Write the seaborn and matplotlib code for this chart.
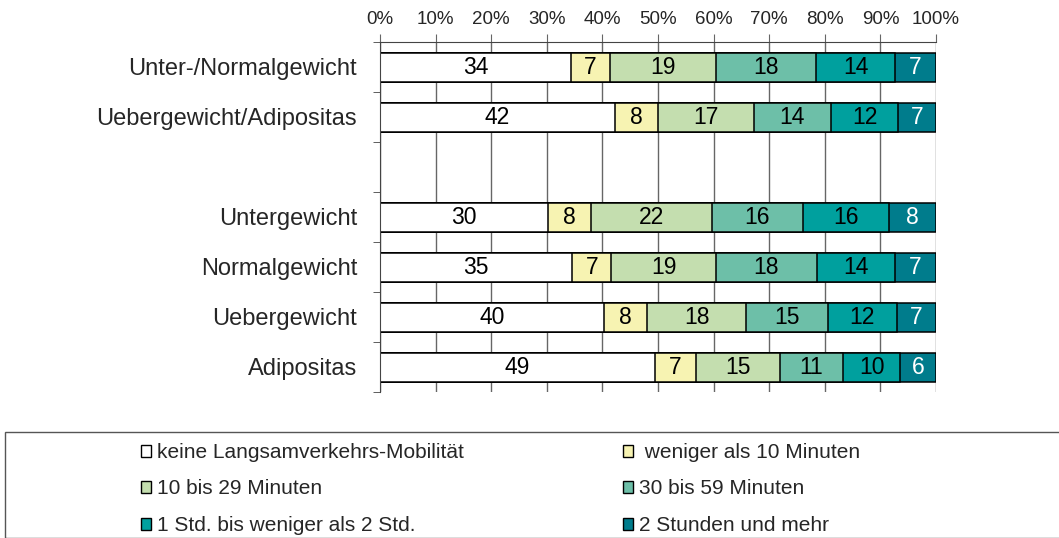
import pandas as pd
import seaborn as sns
import matplotlib.pyplot as plt
from matplotlib.patches import Patch, Rectangle

# rows top to bottom, "" is the empty spacer row
groups = ["Unter-/Normalgewicht", "Uebergewicht/Adipositas", "",
          "Untergewicht", "Normalgewicht", "Uebergewicht", "Adipositas"]

categories = ["keine Langsamverkehrs-Mobilität", " weniger als 10 Minuten",
              "10 bis 29 Minuten", "30 bis 59 Minuten",
              "1 Std. bis weniger als 2 Std.", "2 Stunden und mehr"]

# shares in % per group, same order as categories
unter_normal = [34.3, 7.1, 19.0, 18.1, 14.1, 7.4]
ueber_adipos = [42.2, 7.8, 17.2, 13.9, 12.1, 6.8]
untergewicht = [30.2, 7.7, 21.8, 16.3, 15.6, 8.4]
normalgewicht = [34.6, 7.0, 18.8, 18.2, 14.0, 7.4]
uebergewicht = [40.2, 7.9, 17.7, 14.7, 12.4, 7.1]
adipositas = [49.4, 7.4, 15.2, 11.2, 10.4, 6.4]

colors = ["#FFFFFF", "#F7F3B2", "#C4DEAF", "#6DBFA8", "#00A09E", "#007C8C"]
label_colors = ["black", "black", "black", "black", "black", "white"]

values = {
    "Unter-/Normalgewicht": unter_normal,
    "Uebergewicht/Adipositas": ueber_adipos,
    "Untergewicht": untergewicht,
    "Normalgewicht": normalgewicht,
    "Uebergewicht": uebergewicht,
    "Adipositas": adipositas,
}

rows = []
for grp, vals in values.items():
    cum = 0
    for cat, v in zip(categories, vals):
        rows.append({"group": grp, "category": cat, "value": v,
                     "start": cum, "cum": cum + v})
        cum += v
df = pd.DataFrame(rows)

sns.set_style("white")
plt.rcParams["font.family"] = ["Liberation Sans", "DejaVu Sans"]

fig = plt.figure(figsize=(10.59, 5.38), dpi=100)
ax = fig.add_axes([380 / 1059, 1 - 392 / 538, 556 / 1059, 350 / 538])

# stacked bars: draw cumulative totals from the last category backwards
for i in reversed(range(len(categories))):
    sub = df[df["category"] == categories[i]]
    sns.barplot(data=sub, x="cum", y="group", order=groups, orient="h",
                color=colors[i], saturation=1, errorbar=None,
                edgecolor="black", linewidth=1.1, width=0.58, ax=ax)

# segment labels
pos = {g: k for k, g in enumerate(groups)}
for _, r in df.iterrows():
    ci = categories.index(r["category"])
    ax.text(r["start"] + r["value"] / 2, pos[r["group"]] + 0.02,
            f"{r['value']:.0f}", ha="center", va="center", fontsize=16.5,
            color=label_colors[ci])

ax.set_xlim(0, 100)
ax.set_ylim(6.5, -0.5)
ax.set_xlabel("")
ax.set_ylabel("")

ax.xaxis.tick_top()
ax.set_xticks(range(0, 101, 10))
ax.set_xticklabels([f"{v}%" for v in range(0, 101, 10)], fontsize=13.5)
ax.tick_params(axis="x", which="major", length=6, color="#666666",
               direction="out", pad=4)

ax.set_yticks(range(len(groups)))
ax.set_yticklabels(groups, fontsize=17)
ax.set_yticks([k - 0.5 for k in range(len(groups) + 1)], minor=True)
ax.tick_params(axis="y", which="major", length=0, pad=16.5)
ax.tick_params(axis="y", which="minor", length=5, color="#444444",
               direction="out", left=True)

ax.grid(True, axis="x", color="#666666", linewidth=1)
ax.grid(False, axis="y")
ax.set_axisbelow(True)

for side in ["bottom", "right"]:
    ax.spines[side].set_visible(False)
ax.spines["top"].set_color("#444444")
ax.spines["left"].set_color("#444444")

# legend box
fig.patches.append(Rectangle((5 / 1059, 0), 1.1, 1 - 432 / 538,
                             transform=fig.transFigure, fill=False,
                             edgecolor="#555555", linewidth=1))

handles = [Patch(facecolor=c, edgecolor="black", linewidth=1) for c in colors]
leg_kw = dict(frameon=False, fontsize=15, handlelength=0.5,
              handleheight=0.5, handletextpad=0.25, labelspacing=0.84,
              borderpad=0, borderaxespad=0, loc="upper left")
fig.legend(handles[0::2], categories[0::2],
           bbox_to_anchor=(141 / 1059, 1 - 443 / 538), **leg_kw)
fig.legend(handles[1::2], categories[1::2],
           bbox_to_anchor=(623 / 1059, 1 - 443 / 538), **leg_kw)

fig.savefig("out.png", dpi=100)
